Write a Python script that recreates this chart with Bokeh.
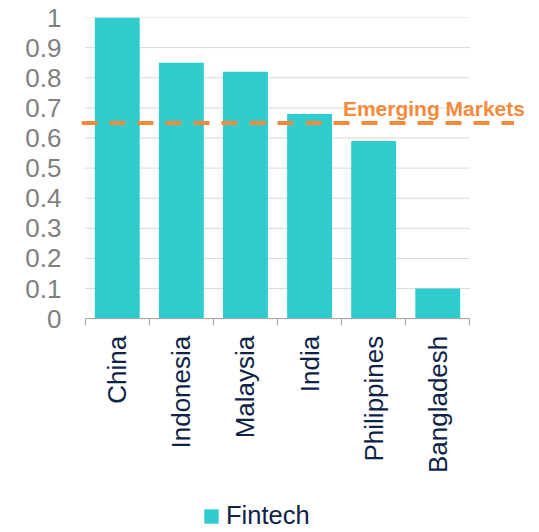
import math
from bokeh.plotting import figure
from bokeh.models import Range1d, FixedTicker, Arrow, Label, Legend, LegendItem
from bokeh.embed import file_html
from bokeh.resources import INLINE

# ---- data ----
categories = ["China", "Indonesia", "Malaysia", "India", "Philippines", "Bangladesh"]
fintech = [1.0, 0.85, 0.82, 0.68, 0.59, 0.10]
emerging_markets = 0.65
emerging_label = "Emerging Markets"
series_name = "Fintech"
y_ticks = [0, 0.1, 0.2, 0.3, 0.4, 0.5, 0.6, 0.7, 0.8, 0.9, 1]
y_tick_labels = ["0", "0.1", "0.2", "0.3", "0.4", "0.5", "0.6", "0.7", "0.8", "0.9", "1"]

# ---- style ----
TEAL = "#2ECCCC"
ORANGE = "#F58A3D"
NAVY = "#0D2346"
GRAY = "#7F7F7F"
AXIS_GRAY = "#A6A6A6"
GRID = "#D9D9D9"
FONT = "Liberation Sans"

n = len(categories)
xs = [float(i) + 0.5 for i in range(n)]

# The plot area is extended to the right and downwards (axis pinned at y=0)
# so the reference line, its label and the legend are inside the frame.
p = figure(width=535, height=530, output_backend="svg", toolbar_location=None,
           x_range=Range1d(-0.058, n + 0.9), y_range=Range1d(-0.703, 1),
           min_border_left=81, min_border_right=8, min_border_top=17, min_border_bottom=0)
p.outline_line_color = None
p.background_fill_color = "white"
p.border_fill_color = "white"
p.xgrid.visible = False
p.ygrid.visible = False

# horizontal gridlines only across the category span
p.segment(x0=[0] * len(y_ticks), x1=[n] * len(y_ticks), y0=y_ticks, y1=y_ticks,
          line_color=GRID, line_width=1)

bars = p.vbar(x=xs, top=fintech, width=0.7, fill_color=TEAL, line_color=None)

# y axis
ya = p.yaxis[0]
ya.bounds = (0, 1)
ya.ticker = FixedTicker(ticks=y_ticks)
ya.major_label_overrides = {float(t): l for t, l in zip(y_ticks, y_tick_labels)}
ya.axis_line_color = None
ya.major_tick_line_color = None
ya.minor_tick_line_color = None
ya.major_tick_out = 0
ya.major_tick_in = 0
ya.major_label_standoff = 20
ya.major_label_text_color = GRAY
ya.major_label_text_font = FONT
ya.major_label_text_font_size = "26px"

# x axis, pinned at y = 0
xa = p.xaxis[0]
xa.fixed_location = 0
xa.bounds = (0, n)
xa.ticker = FixedTicker(ticks=xs, minor_ticks=list(range(n + 1)))
xa.major_label_overrides = {x: c for x, c in zip(xs, categories)}
xa.major_label_orientation = math.pi / 2
xa.major_tick_line_color = None
xa.major_tick_out = 0
xa.major_tick_in = 0
xa.minor_tick_out = 7
xa.minor_tick_in = 0
xa.minor_tick_line_color = AXIS_GRAY
xa.axis_line_color = AXIS_GRAY
xa.major_label_standoff = 10
xa.major_label_text_color = NAVY
xa.major_label_text_font = FONT
xa.major_label_text_font_size = "26px"

# emerging markets reference line
ref = Arrow(end=None, x_start=-0.058, y_start=emerging_markets,
            x_end=n + 0.69, y_end=emerging_markets,
            line_color=ORANGE, line_width=4, line_dash="16 12")
p.add_layout(ref)
lab = Label(x=n + 0.86, y=emerging_markets, text=emerging_label,
            text_align="right", text_baseline="alphabetic", y_offset=14.5,
            text_color=ORANGE, text_font=FONT, text_font_style="bold",
            text_font_size="21px")
p.add_layout(lab)

legend = Legend(items=[LegendItem(label=series_name, renderers=[bars])],
                location=(121, 0), orientation="horizontal",
                border_line_color=None, background_fill_alpha=0,
                padding=0, margin=0, spacing=0,
                glyph_width=18, glyph_height=18, label_standoff=6,
                label_text_font=FONT, label_text_font_size="25.5px",
                label_text_color=NAVY)
p.add_layout(legend)

open("out.html", "w").write(file_html(p, INLINE))
